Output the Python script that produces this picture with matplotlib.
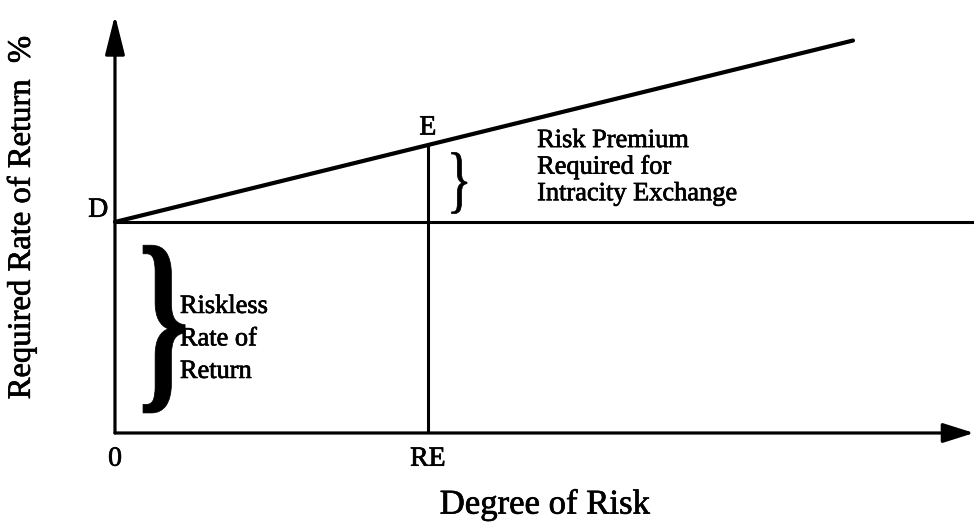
import matplotlib
matplotlib.use("Agg")
import matplotlib.pyplot as plt
import matplotlib.patheffects as pe
from matplotlib.textpath import TextPath
from matplotlib.font_manager import FontProperties
from matplotlib.patches import PathPatch
from matplotlib.transforms import Affine2D

# ---- data (arbitrary units: risk on x, % return on y) ----
riskless_rate = 10.0                 # point D
risk_line_x = [0.0, 10.0]            # required-return line from D
risk_line_y = [10.0, 18.6]
RE = 4.24                            # degree of risk of intracity exchange
x_axis_end = 11.64
y_axis_end = 19.8

point_labels = ["D", "E", "0", "RE"]
premium_lines = ["Risk Premium", "Required for", "Intracity Exchange"]
riskless_lines = ["Riskless", "Rate of", "Return"]
xlabel = "Degree of Risk"
ylabel = "Required Rate of Return  %"

# E lies on the risk line at RE
slope = (risk_line_y[1] - risk_line_y[0]) / (risk_line_x[1] - risk_line_x[0])
E_y = risk_line_y[0] + slope * (RE - risk_line_x[0])

FONT = "Liberation Serif"
heavy = [pe.withStroke(linewidth=0.5, foreground="black")]

fig = plt.figure(figsize=(9.74, 5.24), dpi=100)
ax = fig.add_axes([0, 0, 1, 1])
ax.set_xlim(-1.558, 11.64)
ax.set_ylim(-4.313, 20.52)
ax.axis("off")


def txt(x, y, s, fs, **kw):
    ax.text(x, y, s, fontsize=fs, family=FONT, path_effects=heavy, **kw)


# axes with arrows
arrow_kw = dict(color="black", lw=2.3, shrinkA=0, shrinkB=0)
ax.annotate("", xy=(0, y_axis_end), xytext=(0, 0),
            arrowprops=dict(arrowstyle="-|>,head_length=24,head_width=6",
                            mutation_scale=1, **arrow_kw))
ax.annotate("", xy=(x_axis_end, 0), xytext=(0, 0),
            arrowprops=dict(arrowstyle="-|>,head_length=19,head_width=6",
                            mutation_scale=1, **arrow_kw))

# riskless horizontal line
ax.plot([0, x_axis_end], [riskless_rate, riskless_rate], color="black", lw=2.2,
        solid_capstyle="butt")
# risk line
ax.plot(risk_line_x, risk_line_y, color="black", lw=3.0, solid_capstyle="round")
# vertical at RE
ax.plot([RE, RE], [0, E_y], color="black", lw=2.2, solid_capstyle="butt")

# point labels
lab_fs = 20
txt(-0.09, riskless_rate + 0.25, point_labels[0], lab_fs, ha="right", va="baseline")
txt(RE, E_y + 0.5, point_labels[1], lab_fs, ha="center", va="baseline")
txt(0, -1.55, point_labels[2], lab_fs, ha="center", va="baseline")
txt(RE, -1.55, point_labels[3], lab_fs, ha="center", va="baseline")

# text blocks
txt_fs = 19
for i, s in enumerate(premium_lines):
    txt(RE + 1.48, 13.55 - i * 1.26, s, txt_fs, ha="left", va="baseline")
for i, s in enumerate(riskless_lines):
    txt(0.88, 5.69 - i * 1.54, s, txt_fs, ha="left", va="baseline")


# braces drawn from the glyph, stretched into a box
def brace(x0, x1, y0, y1, bold=False):
    fp = FontProperties(family=FONT, weight="bold" if bold else "normal")
    tp = TextPath((0, 0), "}", size=1, prop=fp)
    ext = tp.get_extents()
    t = (Affine2D().translate(-ext.x0, -ext.y0)
         .scale((x1 - x0) / ext.width, (y1 - y0) / ext.height)
         .translate(x0, y0))
    ax.add_patch(PathPatch(t.transform_path(tp), facecolor="black",
                           edgecolor="black", lw=0.5))


brace(0.38, 0.95, 0.95, 8.9, bold=True)
brace(RE + 0.32, RE + 0.53, 10.4, 13.3)

# axis titles
txt(5.83, -3.82, xlabel, 25, ha="center", va="baseline")
txt(-1.27, 10.2, ylabel, 23.5, ha="center", va="center", rotation=90)

fig.savefig("out.png", dpi=100)
